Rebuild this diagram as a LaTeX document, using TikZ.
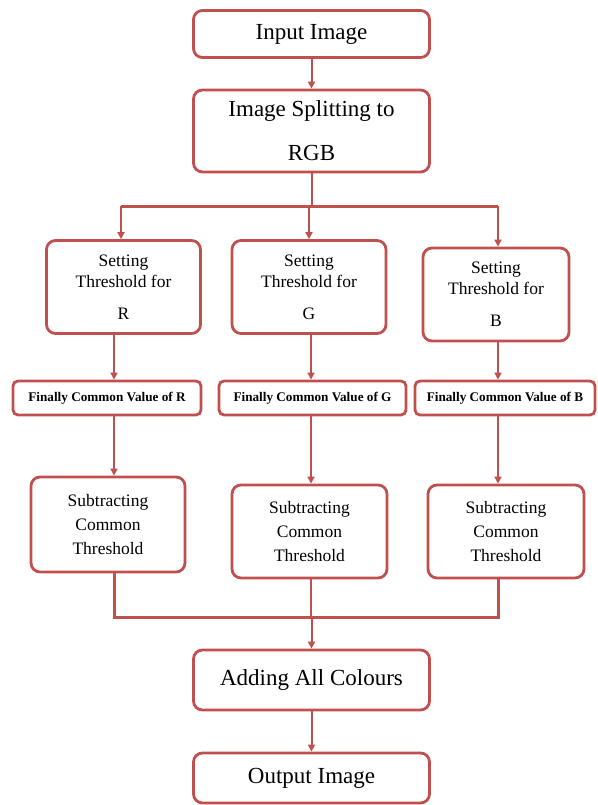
\documentclass[tikz,border=0pt]{standalone}
\usepackage{fontspec}
\setmainfont{Liberation Serif}
\usetikzlibrary{arrows.meta,calc}
\definecolor{acc}{HTML}{C0504D}
\begin{document}
\begin{tikzpicture}[x=1pt,y=-1pt,
  box/.style={draw=acc, line width=2.8pt, rounded corners=9pt, fill=white, inner sep=0pt, align=center, text=black},
  big/.style={box, minimum width=236pt, font=\fontsize{23}{27}\selectfont},
  setbox/.style={box, minimum height=93pt, font=\fontsize{17.5}{21}\selectfont},
  finbox/.style={box, rounded corners=5pt, minimum height=34pt, font=\fontsize{13.2}{15}\selectfont\bfseries},
  subbox/.style={box, minimum height=93pt, font=\fontsize{17.5}{24}\selectfont},
  arr/.style={draw=acc, line width=2pt, -{Triangle[length=7pt,width=7pt]}},
  ln/.style={draw=acc, line width=2pt},
  bus/.style={draw=acc, line width=3pt}]
\useasboundingbox (0,0) rectangle (597,805);

\node[big, minimum height=47pt] (in) at (311.5,34) {Input Image};
\node[big, minimum height=82pt] (split) at (311.5,131) {Image Splitting to\\[17pt]RGB};

\node[setbox, minimum width=154pt] (setR) at (123.5,287) {Setting\\Threshold for\\[11pt]R};
\node[setbox, minimum width=154pt] (setG) at (309,287) {Setting\\Threshold for\\[11pt]G};
\node[setbox, minimum width=146pt] (setB) at (496,294.5) {Setting\\Threshold for\\[11pt]B};

\node[finbox, minimum width=188pt] (finR) at (107,398) {Finally Common Value of R};
\node[finbox, minimum width=187pt] (finG) at (312.5,398) {Finally Common Value of G};
\node[finbox, minimum width=180pt] (finB) at (505,398) {Finally Common Value of B};

\node[subbox, minimum width=154pt, minimum height=95pt] (subR) at (108,524.5) {Subtracting\\Common\\Threshold};
\node[subbox, minimum width=155pt] (subG) at (309.5,531.5) {Subtracting\\Common\\Threshold};
\node[subbox, minimum width=156pt] (subB) at (506,531.5) {Subtracting\\Common\\Threshold};

\node[big, minimum height=60pt] (add) at (311.5,680) {Adding All Colours};
\node[big, minimum height=50pt] (out) at (311.5,778) {Output Image};

\coordinate (jL) at (121,206);
\coordinate (jR) at (498,206);
\coordinate (xR) at (114,0);
\coordinate (xG) at (311,0);
\coordinate (xB) at (498,0);
\coordinate (mL) at (114,617);
\coordinate (mR) at (498,617);

\draw[arr] (in.south) -- (split.north);
\draw[ln] (split.south) -- (split.south |- jL);
\draw[bus] (jL) -- (jR);
\draw[arr] (jL) -- (jL |- setR.north);
\draw[arr] (setG.north |- jL) -- (setG.north);
\draw[arr] (jR) -- (jR |- setB.north);

\draw[arr] (xR |- setR.south) -- (xR |- finR.north);
\draw[arr] (xG |- setG.south) -- (xG |- finG.north);
\draw[arr] (xB |- setB.south) -- (xB |- finB.north);

\draw[arr] (xR |- finR.south) -- (xR |- subR.north);
\draw[arr] (xG |- finG.south) -- (xG |- subG.north);
\draw[arr] (xB |- finB.south) -- (xB |- subB.north);

\draw[bus] (xR |- subR.south) -- (mL) -- (mR) -- (xB |- subB.south);
\draw[ln] (xG |- subG.south) -- (xG |- mL);
\draw[arr] (add.north |- mL) -- (add.north);
\draw[arr] (add.south) -- (out.north);
\end{tikzpicture}
\end{document}
